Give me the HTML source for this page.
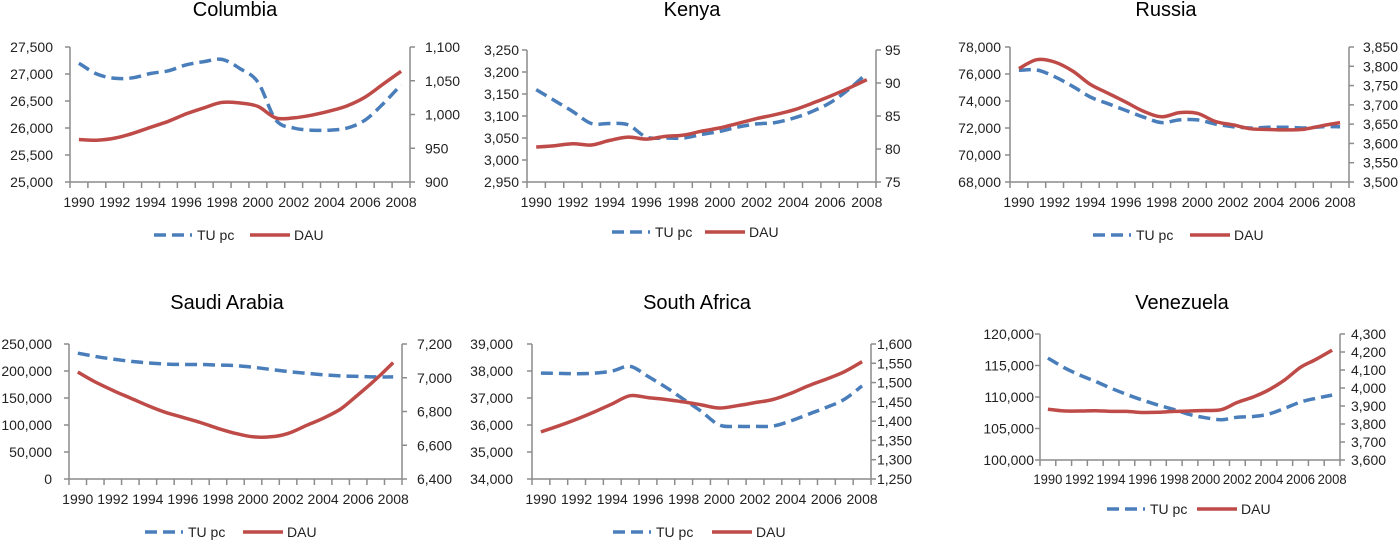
<!DOCTYPE html>
<html><head><meta charset="utf-8"><style>
html,body{margin:0;padding:0;background:#fff;}
svg{display:block;font-family:"Liberation Sans",sans-serif;}
</style></head><body>
<svg id="c" width="1400" height="540" viewBox="0 0 1400 540"></svg>
<script>
const years = [1990,1991,1992,1993,1994,1995,1996,1997,1998,1999,2000,2001,2002,2003,2004,2005,2006,2007,2008];
const yearLabels = ["1990","1992","1994","1996","1998","2000","2002","2004","2006","2008"];

const colTU = [27200,27000,26920,26930,27010,27060,27170,27230,27270,27100,26850,26150,26000,25960,25960,26000,26150,26450,26800];
const colDAU = [963,962,965,972,981,990,1001,1010,1018,1017,1012,995,995,999,1005,1013,1026,1045,1064];
const colLeftTicks = [25000,25500,26000,26500,27000,27500];
const colRightTicks = [900,950,1000,1050,1100];

const kenTU = [3160,3135,3110,3083,3083,3080,3052,3050,3050,3058,3065,3075,3082,3085,3095,3110,3130,3160,3197];
const kenDAU = [80.3,80.5,80.8,80.6,81.3,81.8,81.5,81.9,82.1,82.7,83.2,83.9,84.6,85.2,85.9,86.9,88.0,89.2,90.5];
const kenLeftTicks = [2950,3000,3050,3100,3150,3200,3250];
const kenRightTicks = [75,80,85,90,95];

const rusTU = [76270,76300,75800,75100,74300,73800,73300,72800,72400,72600,72600,72300,72100,72000,72050,72050,72000,72100,72100];
const rusDAU = [3794,3817,3811,3788,3753,3730,3707,3683,3669,3680,3678,3657,3648,3638,3636,3635,3637,3646,3654];
const rusLeftTicks = [68000,70000,72000,74000,76000,78000];
const rusRightTicks = [3500,3550,3600,3650,3700,3750,3800,3850];

const sauTU = [233000,227000,222000,218000,215000,213000,212000,212000,211000,210000,207000,203000,199000,196000,193000,191000,190000,189000,189000];
const sauDAU = [7034,6975,6925,6880,6835,6795,6765,6735,6700,6670,6650,6650,6670,6715,6760,6815,6900,6990,7090];
const sauLeftTicks = [0,50000,100000,150000,200000,250000];
const sauRightTicks = [6400,6600,6800,7000,7200];

const safTU = [37923,37910,37900,37920,38000,38170,37800,37400,36950,36500,36000,35950,35950,35960,36150,36400,36650,36950,37450];
const safDAU = [1372,1388,1405,1424,1445,1466,1461,1456,1450,1442,1434,1440,1448,1456,1472,1492,1509,1528,1554];
const safLeftTicks = [34000,35000,36000,37000,38000,39000];
const safRightTicks = [1250,1300,1350,1400,1450,1500,1550,1600];

const venTU = [116180,114700,113500,112500,111400,110400,109500,108700,108000,107200,106700,106400,106800,106900,107300,108200,109200,109800,110300];
const venDAU = [3882,3873,3872,3874,3870,3870,3864,3865,3870,3872,3875,3880,3920,3950,3990,4045,4115,4160,4210];
const venLeftTicks = [100000,105000,110000,115000,120000];
const venRightTicks = [3600,3700,3800,3900,4000,4100,4200,4300];

const NS="http://www.w3.org/2000/svg";
const svg=document.getElementById('c');
function mk(tag,attrs,parent){const e=document.createElementNS(NS,tag);for(const k in attrs)e.setAttribute(k,attrs[k]);(parent||svg).appendChild(e);return e;}
function fmt(v){return v.toLocaleString('en-US');}
function smooth(pts){
  let d='M'+pts[0][0].toFixed(1)+','+pts[0][1].toFixed(1);
  for(let i=0;i<pts.length-1;i++){
    const p0=pts[Math.max(0,i-1)],p1=pts[i],p2=pts[i+1],p3=pts[Math.min(pts.length-1,i+2)];
    const t=1/6;
    const c1=[p1[0]+(p2[0]-p0[0])*t,p1[1]+(p2[1]-p0[1])*t];
    const c2=[p2[0]-(p3[0]-p1[0])*t,p2[1]-(p3[1]-p1[1])*t];
    d+=' C'+c1.map(v=>v.toFixed(1)).join(',')+' '+c2.map(v=>v.toFixed(1)).join(',')+' '+p2[0].toFixed(1)+','+p2[1].toFixed(1);
  }
  return d;
}
function panel(cfg){
  const g=mk('g',{});
  
  
  const {L,R,T,B}=cfg;
  const lmin=cfg.lt[0],lmax=cfg.lt[cfg.lt.length-1],rmin=cfg.rt[0],rmax=cfg.rt[cfg.rt.length-1];
  const yl=v=>B-(v-lmin)/(lmax-lmin)*(B-T);
  const yr=v=>B-(v-rmin)/(rmax-rmin)*(B-T);
  const bw=(R-L)/years.length;
  const xc=i=>L+bw*(i+0.5);
  const title=mk('text',{x:cfg.tx,y:cfg.ty,'text-anchor':'middle','font-size':20,fill:'#000'},g);
  title.textContent=cfg.title;
  
  
  const ax='#8c8c8c';
  mk('line',{x1:L,y1:T,x2:L,y2:B,stroke:ax,'stroke-width':1.5},g);
  mk('line',{x1:R,y1:T,x2:R,y2:B,stroke:ax,'stroke-width':1.5},g);
  mk('line',{x1:L,y1:B,x2:R,y2:B,stroke:ax,'stroke-width':1.5},g);
  cfg.lt.forEach(v=>{
    const y=yl(v);
    mk('line',{x1:L-5,y1:y,x2:L,y2:y,stroke:ax,'stroke-width':1.5},g);
    const t=mk('text',{x:cfg.le,y:y,'text-anchor':'end','dominant-baseline':'central','font-size':14,fill:'#222'},g);
    t.textContent=fmt(v);
    
    
  });
  cfg.rt.forEach(v=>{
    const y=yr(v);
    mk('line',{x1:R,y1:y,x2:R+5,y2:y,stroke:ax,'stroke-width':1.5},g);
    const t=mk('text',{x:cfg.rs,y:y,'text-anchor':'start','dominant-baseline':'central','font-size':14,fill:'#222'},g);
    t.textContent=fmt(v);
    
    
  });
  for(let i=0;i<=years.length;i++){
    const x=L+bw*i;
    mk('line',{x1:x,y1:B,x2:x,y2:B+6,stroke:ax,'stroke-width':1.5},g);
  }
  const xf=cfg.xf||14;
  yearLabels.forEach((lab,k)=>{
    const i=years.indexOf(+lab);
    const attrs={x:xc(i),y:cfg.yy,'text-anchor':'middle','dominant-baseline':'central','font-size':xf,fill:'#222'};
    if(cfg.xw){attrs.textLength=cfg.xw;attrs.lengthAdjust='spacingAndGlyphs';}
    const t=mk('text',attrs,g);
    t.textContent=lab;
    
    
  });
  const tu=mk('path',{d:smooth(cfg.tu.map((v,i)=>[xc(i),yl(v)])),fill:'none',stroke:'#4a7ebb','stroke-width':3.5,'stroke-dasharray':'12,6'},g);
  
  
  const da=mk('path',{d:smooth(cfg.dau.map((v,i)=>[xc(i),yr(v)])),fill:'none',stroke:'#be4b48','stroke-width':3.5},g);
  
  
  const lg=mk('g',{},g);
  
  
  mk('line',{x1:cfg.lx,y1:cfg.ly,x2:cfg.lx+38,y2:cfg.ly,stroke:'#4a7ebb','stroke-width':3.5,'stroke-dasharray':'12,6'},lg);
  const t1=mk('text',{x:cfg.lx+43,y:cfg.ly,'dominant-baseline':'central','font-size':14,fill:'#222'},lg);
  t1.textContent='TU pc';
  
  
  mk('line',{x1:cfg.lx2,y1:cfg.ly,x2:cfg.lx2+40,y2:cfg.ly,stroke:'#be4b48','stroke-width':3.5},lg);
  const t2=mk('text',{x:cfg.lx2+44,y:cfg.ly,'dominant-baseline':'central','font-size':14,fill:'#222'},lg);
  t2.textContent='DAU';
  
  
}
panel({name:'columbia',title:'Columbia',tu:colTU,dau:colDAU,lt:colLeftTicks,rt:colRightTicks,L:70,R:410,T:47,B:182,le:53,rs:425,tx:235,ty:16,yy:202,lx:154,lx2:250,ly:235});
panel({name:'kenya',title:'Kenya',tu:kenTU,dau:kenDAU,lt:kenLeftTicks,rt:kenRightTicks,L:527,R:876,T:50,B:182,le:519,rs:885,tx:692,ty:16,yy:202,lx:612,lx2:705,ly:232});
panel({name:'russia',title:'Russia',tu:rusTU,dau:rusDAU,lt:rusLeftTicks,rt:rusRightTicks,L:1010,R:1349,T:47,B:182,le:1001,rs:1363,tx:1166,ty:16,yy:202,lx:1093,lx2:1190,ly:235});
panel({name:'saudi-arabia',title:'Saudi Arabia',tu:sauTU,dau:sauDAU,lt:sauLeftTicks,rt:sauRightTicks,L:69,R:402,T:344,B:479,le:52,rs:417,tx:227,ty:309,yy:499,lx:145,lx2:243,ly:532});
panel({name:'south-africa',title:'South Africa',tu:safTU,dau:safDAU,lt:safLeftTicks,rt:safRightTicks,L:532,R:871,T:344,B:479,le:513,rs:877,tx:697,ty:309,yy:499,lx:613,lx2:712,ly:532});
panel({name:'venezuela',title:'Venezuela',tu:venTU,dau:venDAU,lt:venLeftTicks,rt:venRightTicks,L:1040,R:1340,T:334,B:460,le:1034,rs:1351,tx:1182,ty:309,yy:479,lx:1107,lx2:1197,ly:509,xf:14,xw:29});
</script>
</body></html>
